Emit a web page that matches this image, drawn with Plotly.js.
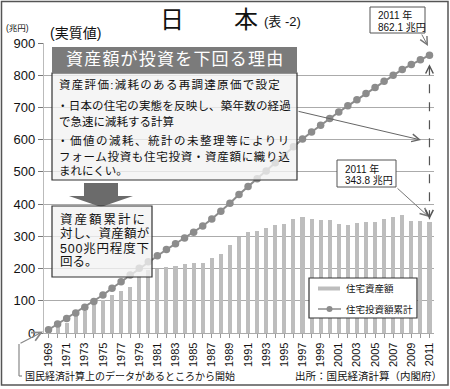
<!DOCTYPE html>
<html><head><meta charset="utf-8">
<script src="https://cdn.plot.ly/plotly-3.0.1.min.js"></script>
<style>html,body{margin:0;padding:0;background:#fff}</style>
</head><body>
<div id="chart" style="width:450px;height:389px"></div>
<script>
// ---- data ----
const years = [1969,1970,1971,1972,1973,1974,1975,1976,1977,1978,1979,1980,1981,1982,1983,1984,1985,1986,1987,1988,1989,1990,1991,1992,1993,1994,1995,1996,1997,1998,1999,2000,2001,2002,2003,2004,2005,2006,2007,2008,2009,2010,2011];
const housingAssets = [10,20,31,52,67,88,103,117,130,143,177,195,200,205,207,213,216,217,234,246,274,297,312,318,326,336,337,355,360,354,352,350,338,336,341,344,346,355,361,365,349,349,343.8];
const cumulativeInvestment = [10,28,45,62,80,98,118,139,159,180,201,221,240,259,277,295,313,332,354,378,403,430,455,479,503,528,552,578,602,624,645,666,686,705,724,743,762,781,800,818,833,848,862.1];
const xTickYears = [1969,1971,1973,1975,1977,1979,1981,1983,1985,1987,1989,1991,1993,1995,1997,1999,2001,2003,2005,2007,2009,2011];
const xTickLabels = xTickYears.map(String);
const yTickValues = [0,100,200,300,400,500,600,700,800,900];
const yTickLabels = yTickValues.map(String);
const seriesNames = ['住宅資産額', '住宅投資額累計'];
const titleMain = ['日', '本'];
const titleSub = '(表 -2)';
const unitLabel = '(兆円)';
const valueNote = '(実質値)';
const reasonHeader = '資産額が投資を下回る理由';
const reasonLines = ['資産評価:減耗のある再調達原価で設定','・日本の住宅の実態を反映し、築年数の経過','で急速に減耗する計算','・価値の減耗、統計の未整理等によりリ','フォーム投資も住宅投資・資産額に織り込','まれにくい。'];
const gapLines = ['資産額累計に','対し、資産額が','500兆円程度下','回る。'];
const noteStart = '国民経済計算上のデータがあるところから開始';
const sourceNote = '出所：国民経済計算（内閣府）';

// ---- layout helpers (pixel -> paper) ----
const PL = 44, PR = 434, PT = 43, PB = 333;
const px = x => (x - PL) / (PR - PL);
const py = y => (PB - y) / (PB - PT);
const FF = '"Liberation Sans", "Noto Sans CJK JP", sans-serif';
const lastYear = years[years.length - 1];
const lastAsset = housingAssets[housingAssets.length - 1];
const lastCum = cumulativeInvestment[cumulativeInvestment.length - 1];
const upp = 900 / (PB - PT);

const traces = [
  {type:'bar', x: years, y: housingAssets, name: seriesNames[0], width: 0.45,
   marker:{color:'#bdbdbd', line:{width:0}}},
  {type:'scatter', mode:'lines+markers', x: years, y: cumulativeInvestment, name: seriesNames[1],
   line:{color:'#8c8c8c', width:2}, marker:{color:'#8c8c8c', size:7.5}}
];

function rectP(x0,y0,x1,y1,fill,line,lw){
  return {type:'rect', xref:'paper', yref:'paper', x0:px(x0), x1:px(x1), y0:py(y0), y1:py(y1),
    fillcolor:fill, line:{color:line||'rgba(0,0,0,0)', width: lw===undefined?1:lw}, layer:'above'};
}
function pathP(pts, fill){
  const d = pts.map((p,i)=>(i?'L':'M')+px(p[0]).toFixed(5)+','+py(p[1]).toFixed(5)).join(' ')+' Z';
  return {type:'path', xref:'paper', yref:'paper', path:d, fillcolor:fill, line:{width:0}, layer:'above'};
}
function txt(x,y,text,size,opts){
  return Object.assign({xref:'paper', yref:'paper', x:px(x), y:py(y), text:text, showarrow:false,
    xanchor:'left', yanchor:'middle', font:{family:FF, size:size, color:'#111'}}, opts||{});
}
function arrowP(xt,yt,xs,ys,color,w){
  return {xref:'paper', yref:'paper', x:px(xt), y:py(yt), ax:xs-xt, ay:ys-yt, text:'', showarrow:true,
    arrowhead:5, arrowsize:1.5, arrowwidth:w||1, arrowcolor:color||'#777'};
}
function sp(text, ls){ return '<span style="letter-spacing:'+ls+'px">'+text+'</span>'; }

const shapes = [
  rectP(1.5,1.5,448,385,'rgba(0,0,0,0)','#555',1.5),
  // reason box
  rectP(52,73,297,180,'rgba(242,242,242,0.78)','#333',1.2),
  rectP(52,47,297,73,'#7b7b7b','#7b7b7b',0),
  // down arrow
  pathP([[84,183],[118,183],[118,196],[133,196],[101,207],[69,196],[84,196]], '#6b6b6b'),
  // gap box
  rectP(52,206,152,277,'rgba(242,242,242,0.78)','#333',1.2),
  // callouts
  rectP(370,7,425,33,'#fff','#555',1),
  rectP(337,160,396,187,'#fff','#555',1),
  // dashed gap line
  {type:'line', xref:'x', yref:'y', x0:lastYear, x1:lastYear, y0:lastAsset + 3*upp, y1:lastCum - 9*upp,
   line:{color:'#555', width:1.2, dash:'dash'}, layer:'above'},
  // legend
  rectP(309,278,417,318,'#fff','#333',1.2),
  rectP(318,286.5,340,290.5,'#bdbdbd','#bdbdbd',0),
  {type:'line', xref:'paper', yref:'paper', x0:px(318), x1:px(341), y0:py(309), y1:py(309), line:{color:'#8c8c8c', width:1.5}, layer:'above'},
  {type:'circle', xref:'paper', yref:'paper', x0:px(326.5), x1:px(332.5), y0:py(306), y1:py(312), fillcolor:'#8c8c8c', line:{width:0}, layer:'above'},
  // bottom note bracket
  {type:'line', xref:'paper', yref:'paper', x0:px(19), x1:px(19), y0:py(344), y1:py(376), line:{color:'#888', width:1.2}, layer:'above'},
  {type:'line', xref:'paper', yref:'paper', x0:px(19), x1:px(22), y0:py(376), y1:py(376), line:{color:'#888', width:1.2}, layer:'above'}
];

const annotations = [
  txt(172,20,titleMain[0],24,{xanchor:'center'}),
  txt(246,20,titleMain[1],24,{xanchor:'center'}),
  txt(262,22,titleSub,13),
  txt(4,28,unitLabel,8.5),
  txt(48,33,valueNote,14),
  txt(174.5,59.5,sp(reasonHeader,1.2),17,{xanchor:'center', font:{family:FF,size:17,color:'#fff'}}),
  txt(57,85,sp(reasonLines[0],1.3),11.5),
  txt(55,105.5,sp(reasonLines[1],0.2),11.5),
  txt(57,121,reasonLines[2],11.5),
  txt(55,140,sp(reasonLines[3],1.5),11.5),
  txt(57,156,sp(reasonLines[4],0.7),11.5),
  txt(57,171,reasonLines[5],11.5),
  txt(58,219.5,sp(gapLines[0],2),12.5),
  txt(58,233.5,sp(gapLines[1],0.3),12.5),
  txt(58,248.5,sp(gapLines[2],0.8),12.5),
  txt(58,262,gapLines[3],12.5),
  txt(376,15.5,'2011 年',10),
  txt(376,27.5,'862.1 兆円',10),
  txt(343,168.5,'2011 年',10),
  txt(343,180.5,'343.8 兆円',10),
  txt(344,288,seriesNames[0],9.5),
  txt(344,309,seriesNames[1],9.5),
  txt(23,376,noteStart,10),
  txt(444,376,sourceNote,10.5,{xanchor:'right'}),
  // arrows
  arrowP(421,140,297,111,'#666',1),
  arrowP(428,46,421,33,'#777',1),
  arrowP(429,217,396,187,'#777',1),
  arrowP(43,331.5,19,344,'#888',1.2),
  {xref:'x', yref:'y', x:lastYear, y:lastAsset + 3*upp, ax:0, ay:-10, text:'', showarrow:true, arrowhead:5, arrowsize:1.5, arrowwidth:1, arrowcolor:'#555'},
  {xref:'x', yref:'y', x:lastYear, y:lastCum - 9*upp, ax:0, ay:10, text:'', showarrow:true, arrowhead:5, arrowsize:1.5, arrowwidth:1, arrowcolor:'#555'}
];

const layout = {
  width:450, height:389, margin:{l:PL, r:450-PR, t:PT, b:389-PB},
  paper_bgcolor:'#fff', plot_bgcolor:'#fff', showlegend:false, bargap:0,
  font:{family:FF, size:12, color:'#111'},
  xaxis:{range:[1968.5, 2011.5], tickmode:'array', tickvals:xTickYears, ticktext:xTickLabels,
    tickangle:-90, tickfont:{family:FF, size:11, color:'#111'}, ticks:'outside', ticklen:4, tickcolor:'#999',
    minor:{dtick:1, tick0:1969, ticks:'outside', ticklen:4, tickcolor:'#999', showgrid:false},
    showgrid:false, zeroline:false, showline:true, linecolor:'#aaa', linewidth:1.2, fixedrange:true},
  yaxis:{range:[0,900], tickmode:'array', tickvals:yTickValues, ticktext:yTickLabels,
    tickfont:{family:FF, size:13, color:'#111'}, ticks:'outside', ticklen:5, tickcolor:'#777',
    showgrid:true, gridcolor:'#ababab', gridwidth:1.2, zeroline:false, showline:true, linecolor:'#bbb', linewidth:1.2, fixedrange:true},
  shapes:shapes, annotations:annotations
};

Plotly.newPlot('chart', traces, layout, {staticPlot:true, displayModeBar:false});
</script>
</body></html>
